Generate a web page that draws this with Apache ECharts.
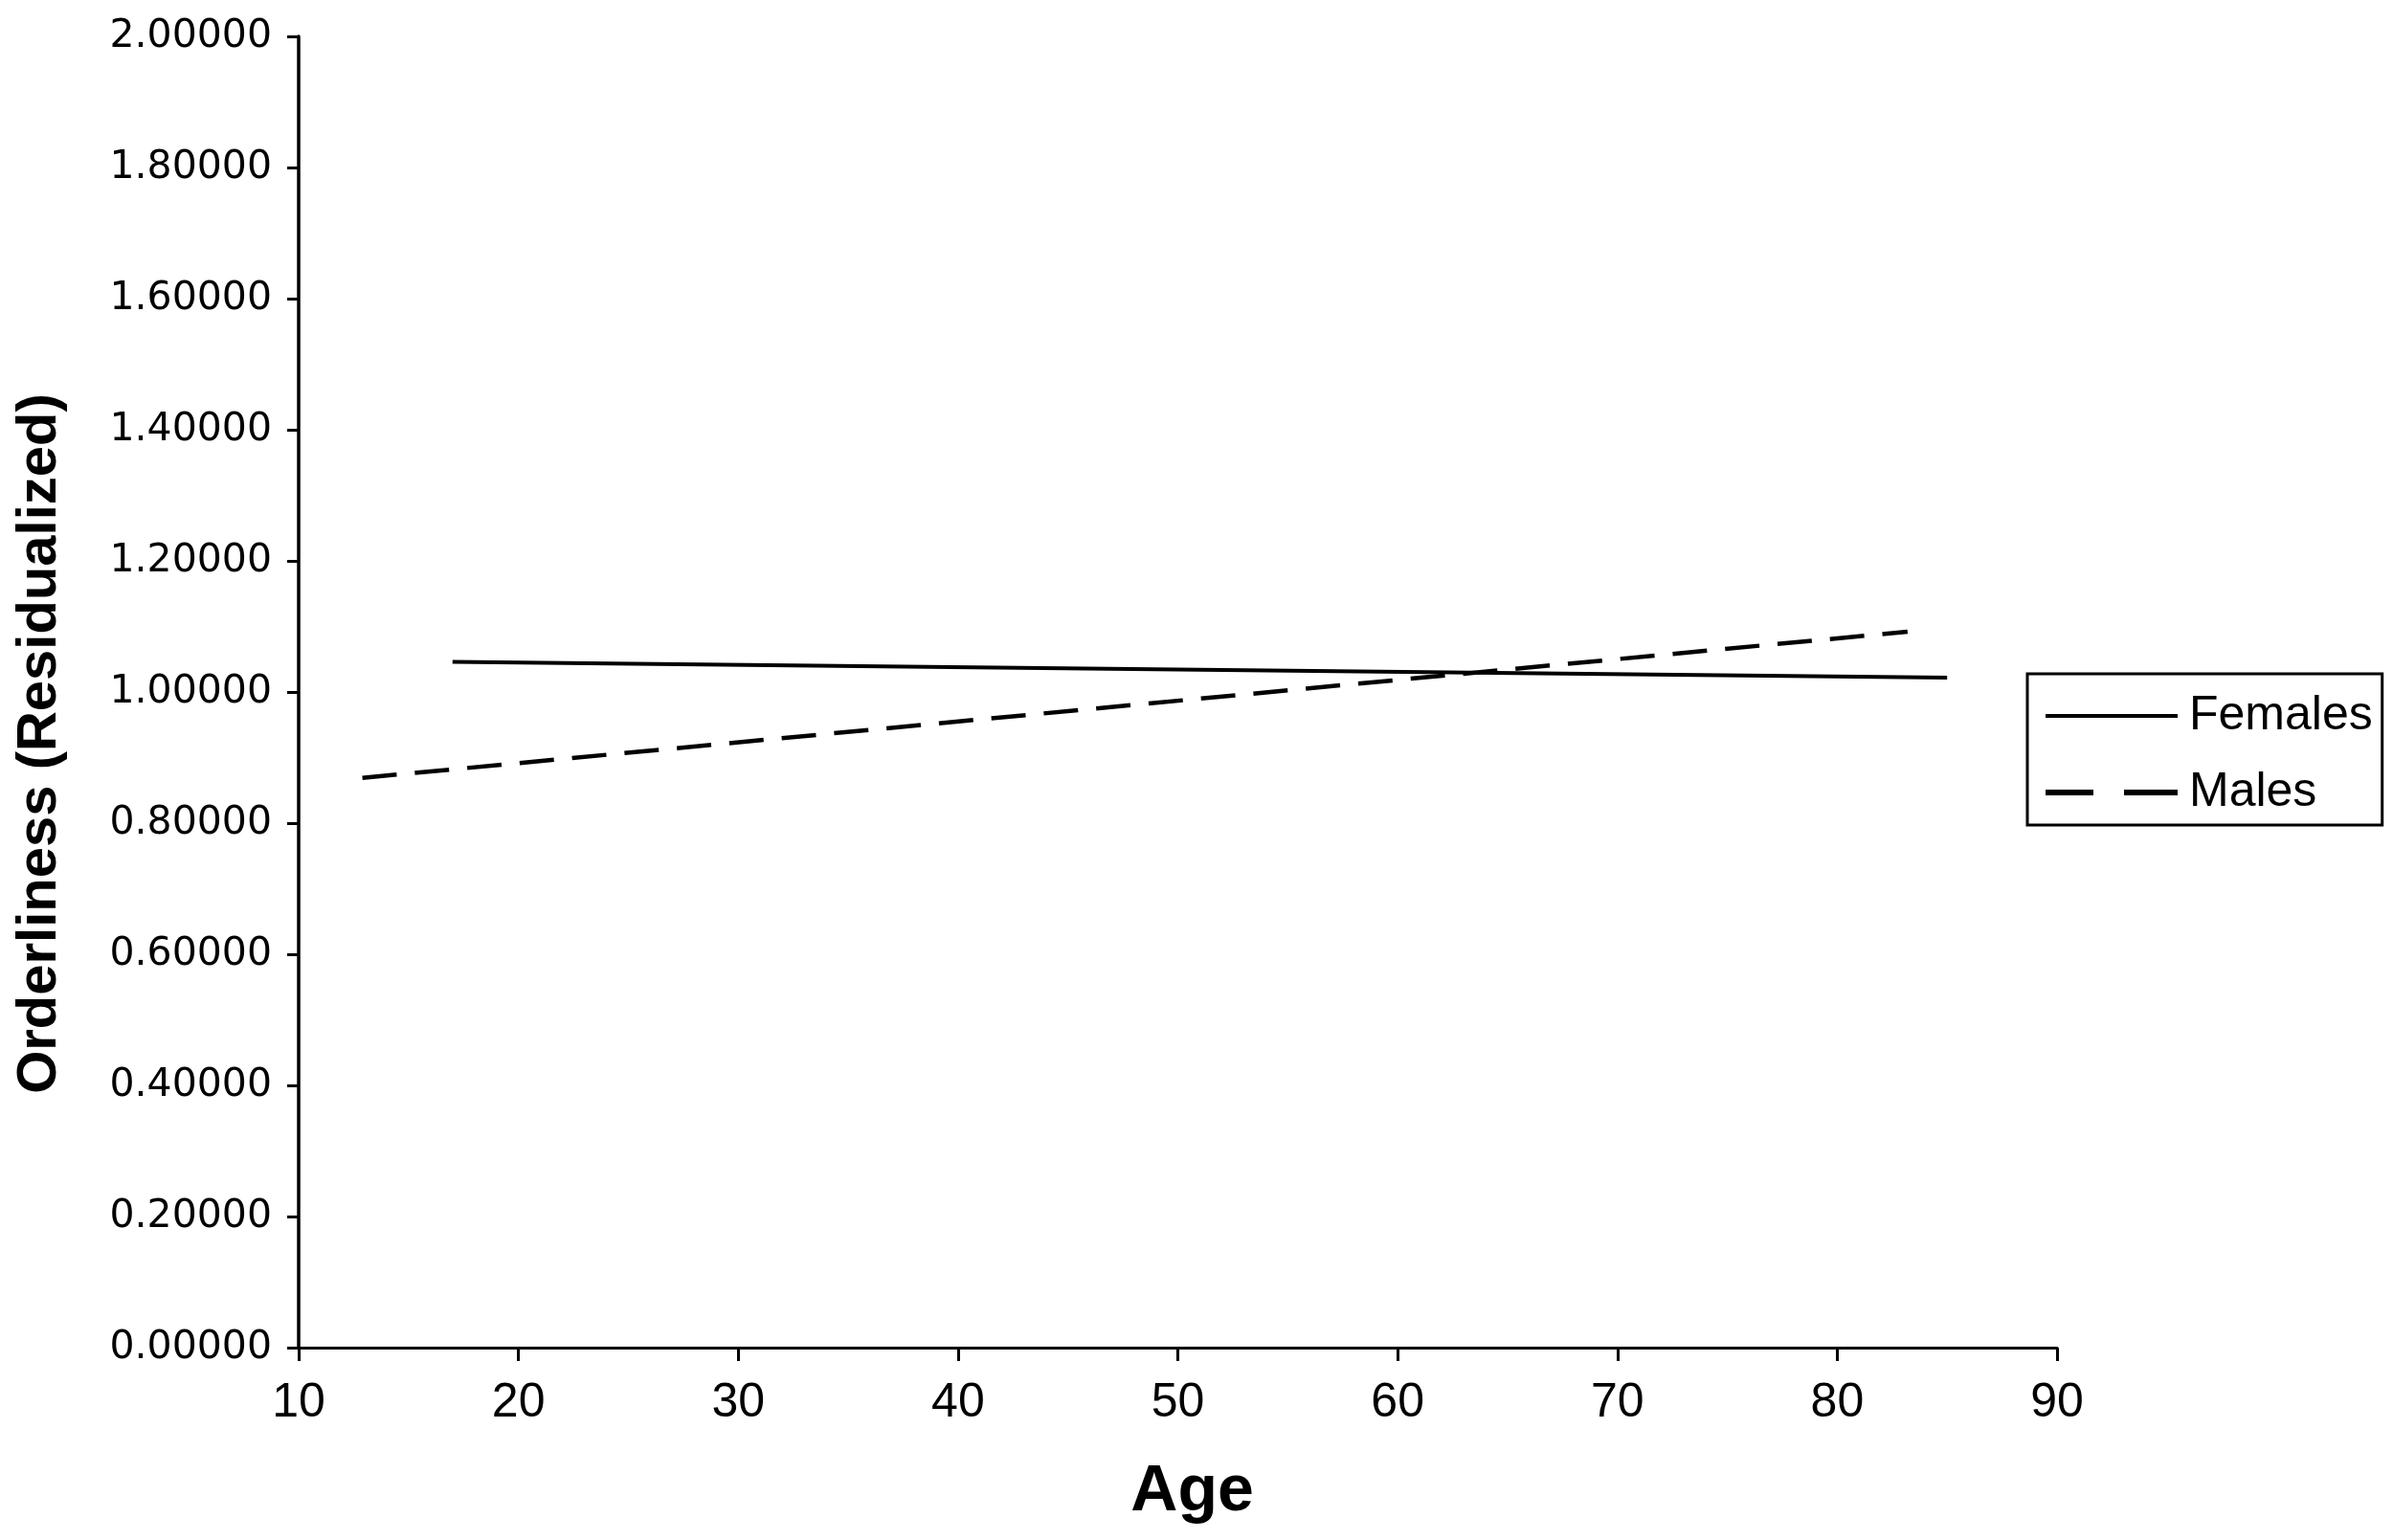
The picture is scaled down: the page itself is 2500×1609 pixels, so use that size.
<!DOCTYPE html>
<html>
<head>
<meta charset="utf-8">
<script src="https://cdn.jsdelivr.net/npm/echarts@6/dist/echarts.min.js"></script>
<style>html,body{margin:0;padding:0;background:#fff;}#c{width:2500px;height:1609px;}</style>
</head>
<body>
<div id="c"></div>
<script>
// Data
const femaleAges = [17, 85];
const femaleValues = [1.046, 1.022];
const maleAges = [12.9, 83.2];
const maleValues = [0.869, 1.092];
const seriesNames = ['Females', 'Males'];
const xTitle = 'Age';
const yTitle = 'Orderliness (Residualized)';

const chart = echarts.init(document.getElementById('c'));
const toPairs = (xs, ys) => xs.map((x, i) => [x, ys[i]]);

chart.setOption({
  backgroundColor: '#ffffff',
  animation: false,
  grid: { left: 312, right: 351, top: 38, bottom: 201, containLabel: false },
  xAxis: {
    type: 'value', min: 10, max: 90, interval: 10,
    name: xTitle, nameLocation: 'middle', nameGap: 117,
    nameTextStyle: { fontFamily: 'Liberation Sans', fontWeight: 'bold', fontSize: 68, color: '#000', padding: [0, 0, 0, 30] },
    axisLine: { show: true, onZero: false, lineStyle: { color: '#000', width: 3 } },
    axisTick: { show: true, inside: false, length: 14, lineStyle: { color: '#000', width: 3 } },
    axisLabel: { margin: 33, fontFamily: 'Liberation Sans', fontSize: 50, color: '#000' },
    splitLine: { show: false }
  },
  yAxis: {
    type: 'value', min: 0, max: 2, interval: 0.2,
    axisLine: { show: true, onZero: false, lineStyle: { color: '#000', width: 3.5 } },
    axisTick: { show: true, inside: false, length: 12, lineStyle: { color: '#000', width: 3 } },
    axisLabel: { margin: 28, fontFamily: 'DejaVu Sans', fontSize: 41, color: '#000',
      formatter: v => v.toFixed(5) },
    splitLine: { show: false }
  },
  legend: {
    orient: 'vertical',
    left: 2118, top: 704,
    padding: [19, 10, 9, 19],
    itemGap: 30,
    itemWidth: 138, itemHeight: 6,
    borderColor: '#000', borderWidth: 3,
    backgroundColor: '#fff',
    textStyle: { fontFamily: 'Liberation Sans', fontSize: 50, color: '#000', lineHeight: 50, padding: [0, 0, 0, 7] },
    data: [
      { name: seriesNames[0], icon: 'path://M0,0H138V4H0Z', itemStyle: { color: '#000' } },
      { name: seriesNames[1], icon: 'path://M0,0H50V6H0Z M82,0H138V6H82Z', itemStyle: { color: '#000' } }
    ]
  },
  graphic: [{
    type: 'text',
    x: 42, y: 777,
    rotation: Math.PI / 2,
    style: {
      text: yTitle,
      fontFamily: 'Liberation Sans', fontWeight: 'bold', fontSize: 58,
      fill: '#000', align: 'center', verticalAlign: 'middle'
    }
  }],
  series: [
    {
      name: seriesNames[0], type: 'line', data: toPairs(femaleAges, femaleValues),
      symbol: 'none', lineStyle: { color: '#000', width: 4, type: 'solid' },
      itemStyle: { color: '#000' }
    },
    {
      name: seriesNames[1], type: 'line', data: toPairs(maleAges, maleValues),
      symbol: 'none', lineStyle: { color: '#000', width: 4.5, type: [36, 19] },
      itemStyle: { color: '#000' }
    }
  ]
});
</script>
</body>
</html>
